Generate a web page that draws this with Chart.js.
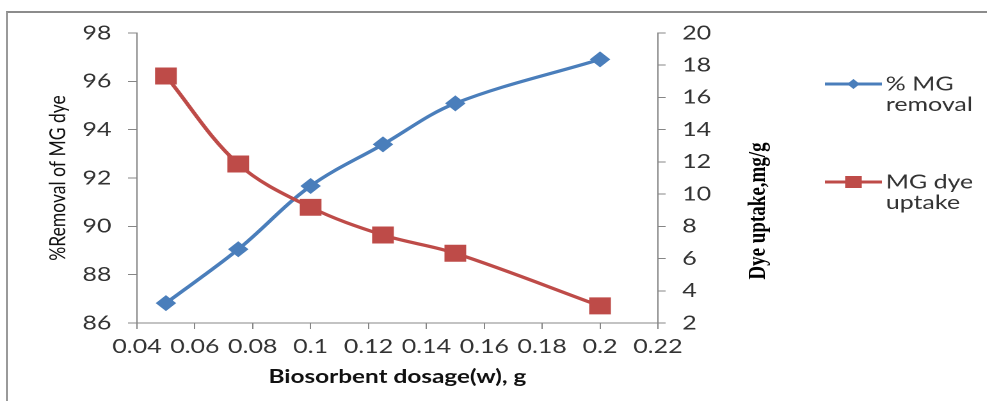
<!DOCTYPE html>
<html>
<head>
<meta charset="utf-8">
<script src="https://cdn.jsdelivr.net/npm/chart.js@4.4.1/dist/chart.umd.min.js"></script>
<style>
  html, body { margin: 0; padding: 0; background: #fff; overflow: hidden; }
  #frame { position: absolute; left: 6px; top: 11px; width: 1100px; height: 500px;
           border-left: 2px solid #9a9a9a; border-top: 2px solid #8c8c8c; }
  #wrap { position: absolute; left: 0; top: 0; width: 771px; height: 401px;
          transform: scaleX(1.28); transform-origin: 0 0; }
</style>
</head>
<body>
<div id="frame"></div>
<div id="wrap"><canvas id="c" width="771" height="401"></canvas></div>
<script>
// ---- data ----
const dosage = [0.05, 0.075, 0.1, 0.125, 0.15, 0.2];
const removalPct = [86.82, 89.05, 91.67, 93.39, 95.09, 96.91];
const dyeUptake = [17.33, 11.87, 9.18, 7.46, 6.33, 3.06];

const xTicks = [0.04, 0.06, 0.08, 0.1, 0.12, 0.14, 0.16, 0.18, 0.2, 0.22];
const xTickLabels = ['0.04', '0.06', '0.08', '0.1', '0.12', '0.14', '0.16', '0.18', '0.2', '0.22'];
const yLeftTicks = [86, 88, 90, 92, 94, 96, 98];
const yRightTicks = [2, 4, 6, 8, 10, 12, 14, 16, 18, 20];

const seriesNames = [['% MG', 'removal'], ['MG dye', 'uptake']];
const xTitle = 'Biosorbent dosage(w), g';
const yLeftTitle = '%Removal of MG dye';
const yRightTitle = 'Dye uptake,mg/g';

// ---- styles ----
const BLUE = '#4A7EBB';
const RED = '#BE4B48';
const AXIS = '#868686';
const TEXT = '#333333';
const FONT = 'Lato';

const legendAndTitle = {
  id: 'legendAndTitle',
  afterDraw(chart) {
    const ctx = chart.ctx;
    const ca = chart.chartArea;
    // right axis title, reading bottom to top
    ctx.save();
    ctx.translate(ca.right + 78.5, 211);
    ctx.rotate(-Math.PI / 2);
    ctx.font = 'bold 19px "Liberation Serif"';
    ctx.fillStyle = '#000';
    ctx.textAlign = 'center';
    ctx.textBaseline = 'middle';
    ctx.fillText(yRightTitle, 0, 0);
    ctx.restore();

    // legend
    const items = [
      { lines: seriesNames[0], color: BLUE, style: 'diamond', y: 84 },
      { lines: seriesNames[1], color: RED, style: 'square', y: 182 }
    ];
    const x0 = ca.right + 130.5, x1 = ca.right + 175, xm = (x0 + x1) / 2, xt = ca.right + 178;
    items.forEach(it => {
      ctx.save();
      ctx.strokeStyle = it.color;
      ctx.lineWidth = 3;
      ctx.beginPath();
      ctx.moveTo(x0, it.y);
      ctx.lineTo(x1, it.y);
      ctx.stroke();
      ctx.fillStyle = it.color;
      ctx.beginPath();
      if (it.style === 'diamond') {
        const r = 5;
        ctx.moveTo(xm - r, it.y); ctx.lineTo(xm, it.y - r);
        ctx.lineTo(xm + r, it.y); ctx.lineTo(xm, it.y + r);
        ctx.closePath();
      } else {
        ctx.rect(xm - 6.5, it.y - 6, 13, 12);
      }
      ctx.fill();
      ctx.font = '19.5px ' + FONT;
      ctx.fillStyle = TEXT;
      ctx.textAlign = 'left';
      ctx.textBaseline = 'middle';
      it.lines.forEach((t, i) => ctx.fillText(t, xt, it.y + i * 20.5));
      ctx.restore();
    });
  }
};

const tickFont = { family: FONT, size: 19.5 };

new Chart(document.getElementById('c'), {
  type: 'line',
  data: {
    datasets: [
      {
        label: seriesNames[0].join(' '),
        data: dosage.map((x, i) => ({ x: x, y: removalPct[i] })),
        yAxisID: 'y',
        borderColor: BLUE,
        backgroundColor: BLUE,
        borderWidth: 3.2,
        pointStyle: 'rectRot',
        pointRadius: 8,
        pointHoverRadius: 8,
        pointBorderWidth: 0,
        tension: 0.35,
        fill: false,
        order: 2
      },
      {
        label: seriesNames[1].join(' '),
        data: dosage.map((x, i) => ({ x: x, y: dyeUptake[i] })),
        yAxisID: 'y1',
        borderColor: RED,
        backgroundColor: RED,
        borderWidth: 3.2,
        pointStyle: 'rect',
        pointRadius: 12,
        pointHoverRadius: 12,
        pointBorderWidth: 0,
        tension: 0.35,
        fill: false,
        order: 1
      }
    ]
  },
  options: {
    responsive: false,
    devicePixelRatio: 2,
    animation: false,
    layout: { padding: { top: 33, left: 0, right: 200, bottom: 0 } },
    plugins: { legend: { display: false }, tooltip: { enabled: false } },
    scales: {
      x: {
        type: 'linear',
        position: 'bottom',
        min: 0.04, max: 0.22,
        afterBuildTicks: s => { s.ticks = xTicks.map(v => ({ value: v })); },
        afterFit: s => { s.height = 78; },
        ticks: {
          callback: (v) => { const i = xTicks.findIndex(t => Math.abs(t - v) < 1e-9); return i >= 0 ? xTickLabels[i] : ''; },
          font: tickFont, color: TEXT, padding: 6, maxRotation: 0, autoSkip: false
        },
        grid: { display: true, drawOnChartArea: false, drawTicks: true, tickLength: 6, color: AXIS },
        border: { display: true, color: AXIS, width: 1 },
        title: { display: true, text: xTitle, color: '#111', font: { family: FONT, size: 19, weight: 'bold' }, padding: { top: 0, bottom: 12.5 } }
      },
      y: {
        type: 'linear',
        position: 'left',
        min: 86, max: 98,
        afterBuildTicks: s => { s.ticks = yLeftTicks.map(v => ({ value: v })); },
        afterFit: s => { s.width = 107; },
        ticks: { font: tickFont, color: TEXT, padding: 13, callback: v => String(v) },
        grid: { display: true, drawOnChartArea: false, drawTicks: true, tickLength: 7, color: AXIS },
        border: { display: true, color: AXIS, width: 1 },
        title: { display: true, text: yLeftTitle, color: '#111', font: { family: FONT, size: 17.5 }, padding: { top: 35, bottom: 0 } }
      },
      y1: {
        type: 'linear',
        position: 'right',
        min: 2, max: 20,
        afterBuildTicks: s => { s.ticks = yRightTicks.map(v => ({ value: v })); },
        afterFit: s => { s.width = 57; },
        ticks: { font: tickFont, color: TEXT, padding: 13, callback: v => String(v) },
        grid: { display: true, drawOnChartArea: false, drawTicks: true, tickLength: 6, color: AXIS },
        border: { display: true, color: AXIS, width: 1 }
      }
    }
  },
  plugins: [legendAndTitle]
});
</script>
</body>
</html>
